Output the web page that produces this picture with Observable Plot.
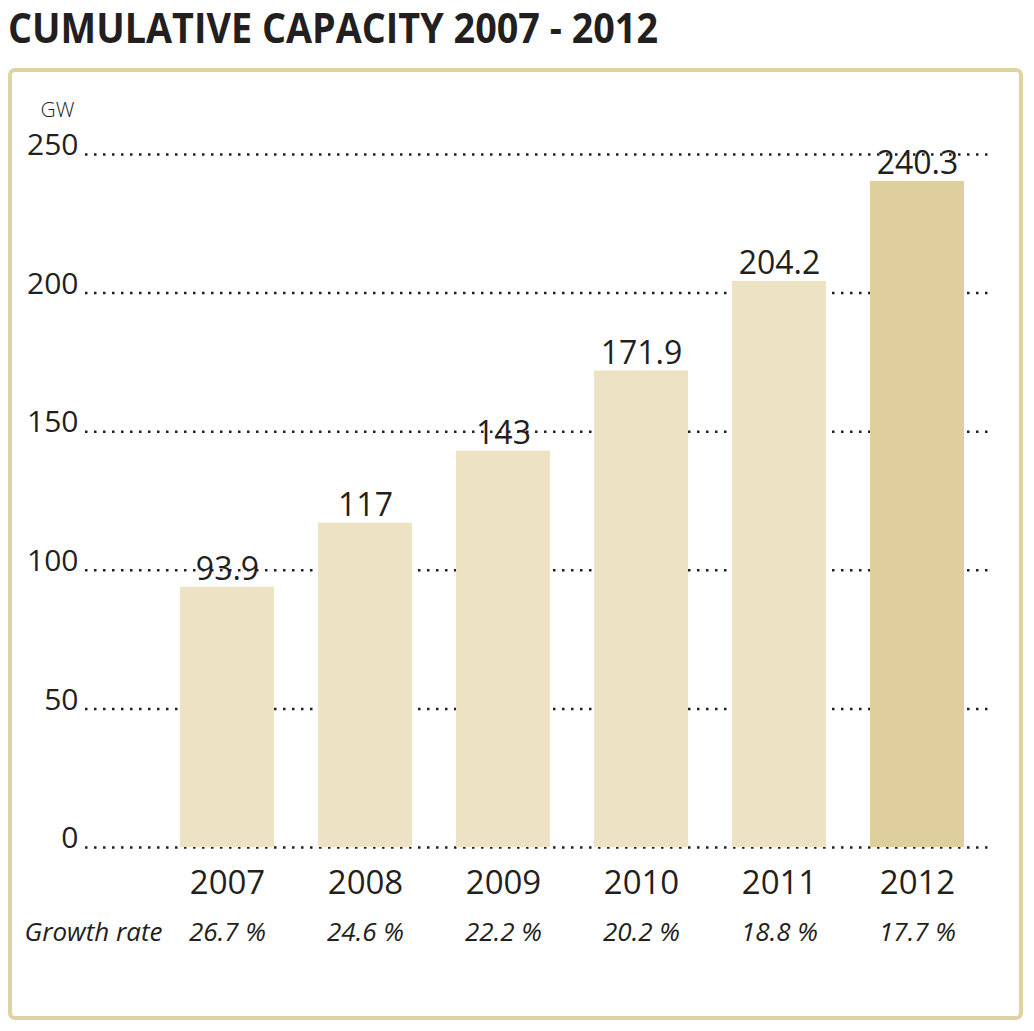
<!DOCTYPE html>
<html>
<head>
<meta charset="utf-8">
<script src="https://cdn.jsdelivr.net/npm/d3@7"></script>
<script src="https://cdn.jsdelivr.net/npm/@observablehq/plot@0.6"></script>
<style>
  html, body { margin: 0; padding: 0; background: #fff; }
  body { width: 1034px; height: 1031px; position: relative; overflow: hidden; font-family: "Open Sans", sans-serif; color: #231f20; }
  #title { position: absolute; left: 8px; top: 2px; font-family: "Open Sans", sans-serif; font-weight: 700; font-size: 42px; line-height: 50px; white-space: nowrap; transform-origin: 0 0; color: #231f20; }
  #frame { position: absolute; left: 8px; top: 68px; width: 1007px; height: 944px; border: 4px solid #e0d3a3; border-radius: 7px; }
  #chart { position: absolute; left: 0; top: 68px; }
</style>
</head>
<body>
<div id="title">CUMULATIVE CAPACITY 2007 - 2012</div>
<div id="frame"></div>
<div id="chart"></div>
<script>
const years = ["2007", "2008", "2009", "2010", "2011", "2012"];
const capacity = [93.9, 117, 143, 171.9, 204.2, 240.3];
const valueLabels = ["93.9", "117", "143", "171.9", "204.2", "240.3"];
const growthRates = ["26.7 %", "24.6 %", "22.2 %", "20.2 %", "18.8 %", "17.7 %"];
const yTicks = [0, 50, 100, 150, 200, 250];

const data = years.map((y, i) => ({year: y, value: capacity[i], label: valueLabels[i], growth: growthRates[i], highlight: y === "2012"}));

const textColor = "#231f20";

const chart = Plot.plot({
  width: 1034,
  height: 952,
  marginLeft: 85,
  marginRight: 44,
  marginTop: 86,
  marginBottom: 173,
  style: {fontFamily: "'Open Sans', sans-serif", color: textColor, background: "transparent"},
  x: {domain: years, paddingInner: 0.32, paddingOuter: 0.434, align: 0.78, label: null},
  y: {domain: [0, 250], label: null},
  marks: [
    Plot.ruleY(yTicks, {stroke: "#231f20", strokeWidth: 2.5, strokeDasharray: "2.5,6.5"}),
    Plot.barY(data, {x: "year", y: "value", fill: d => d.highlight ? "#dfcf9c" : "#ede2c4"}),
    Plot.text(data, {x: "year", y: "value", text: "label", lineAnchor: "bottom", dy: -7, fontSize: 32, fill: textColor}),
    Plot.axisY(yTicks, {tickSize: 0, tickPadding: 7, fontSize: 30, dy: -9, fill: textColor}),
    Plot.axisX(years, {tickSize: 0, tickPadding: 23, fontSize: 33, fill: textColor}),
    Plot.text(data, {x: "year", text: "growth", frameAnchor: "bottom", dy: 93, fontSize: 26, fontStyle: "italic", fill: textColor}),
    Plot.text(["Growth rate"], {frameAnchor: "bottom-left", text: d => d, textAnchor: "start", dx: -61, dy: 93, fontSize: 26, fontStyle: "italic", fill: textColor}),
    Plot.text(["GW"], {frameAnchor: "top-left", text: d => d, textAnchor: "start", dx: -45, dy: -52, fontSize: 21, fontWeight: 300, fill: textColor})
  ]
});
document.getElementById("chart").appendChild(chart);

// Fit condensed title width
const t = document.getElementById("title");
const w = t.getBoundingClientRect().width;
t.style.transform = `scaleX(${650 / w})`;
</script>
</body>
</html>
